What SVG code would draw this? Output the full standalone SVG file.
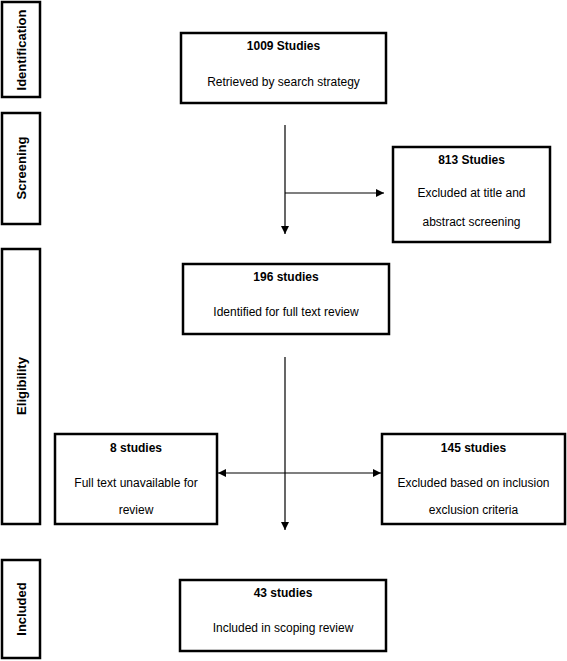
<svg xmlns="http://www.w3.org/2000/svg" width="567" height="661" viewBox="0 0 567 661">
<style>
.box{fill:#fff;stroke:#000;stroke-width:2.5}
.t{font-family:"Liberation Sans",Arial,sans-serif;font-size:12px;fill:#000;text-anchor:middle}
.b{font-weight:bold}
.side{font-family:"Liberation Sans",Arial,sans-serif;font-size:13px;font-weight:bold;fill:#000;text-anchor:middle}
.c{fill:none;stroke:#000;stroke-width:1.2}
</style>
<defs>
<marker id="ah" viewBox="0 0 10 10" refX="10" refY="5" markerWidth="8" markerHeight="8" markerUnits="userSpaceOnUse" orient="auto-start-reverse">
<path d="M0,0 L10,5 L0,10 Z" fill="#000"/>
</marker>
</defs>
<rect width="567" height="661" fill="#fff"/>
<g id="stage-identification">
<rect class="box" x="2" y="2" width="38" height="95"/>
<text class="side" transform="translate(25.5,50) rotate(-90)">Identification</text>
</g>
<g id="stage-screening">
<rect class="box" x="2" y="113" width="38" height="111"/>
<text class="side" transform="translate(25.5,168) rotate(-90)">Screening</text>
</g>
<g id="stage-eligibility">
<rect class="box" x="2" y="249" width="38" height="275"/>
<text class="side" transform="translate(25.5,386) rotate(-90)">Eligibility</text>
</g>
<g id="stage-included">
<rect class="box" x="2" y="560" width="38" height="98"/>
<text class="side" transform="translate(25.5,609) rotate(-90)">Included</text>
</g>
<g id="n1009">
<rect class="box" x="181" y="33" width="205" height="70"/>
<text class="t b" x="283.5" y="50">1009 Studies</text>
<text class="t" x="283.5" y="86">Retrieved by search strategy</text>
</g>
<g id="n813">
<rect class="box" x="393" y="147" width="157" height="95"/>
<text class="t b" x="471.5" y="164">813 Studies</text>
<text class="t" x="471.5" y="197">Excluded at title and</text>
<text class="t" x="471.5" y="226">abstract screening</text>
</g>
<g id="n196">
<rect class="box" x="183" y="264" width="206" height="70"/>
<text class="t b" x="286" y="281">196 studies</text>
<text class="t" x="286" y="316">Identified for full text review</text>
</g>
<g id="n8">
<rect class="box" x="55" y="434" width="162" height="90"/>
<text class="t b" x="136" y="452">8 studies</text>
<text class="t" x="136" y="487">Full text unavailable for</text>
<text class="t" x="136" y="514">review</text>
</g>
<g id="n145">
<rect class="box" x="382" y="434" width="183" height="90"/>
<text class="t b" x="473.5" y="452">145 studies</text>
<text class="t" x="473.5" y="487">Excluded based on inclusion</text>
<text class="t" x="473.5" y="514">exclusion criteria</text>
</g>
<g id="n43">
<rect class="box" x="180" y="580" width="206" height="71"/>
<text class="t b" x="283" y="597">43 studies</text>
<text class="t" x="283" y="632">Included in scoping review</text>
</g>
<g id="connectors">
<line class="c" x1="285" y1="125" x2="285" y2="234" marker-end="url(#ah)"/>
<line class="c" x1="285" y1="193" x2="384" y2="193" marker-end="url(#ah)"/>
<line class="c" x1="285" y1="357" x2="285" y2="530" marker-end="url(#ah)"/>
<line class="c" x1="218" y1="473" x2="381" y2="473" marker-start="url(#ah)" marker-end="url(#ah)"/>
</g>
</svg>
